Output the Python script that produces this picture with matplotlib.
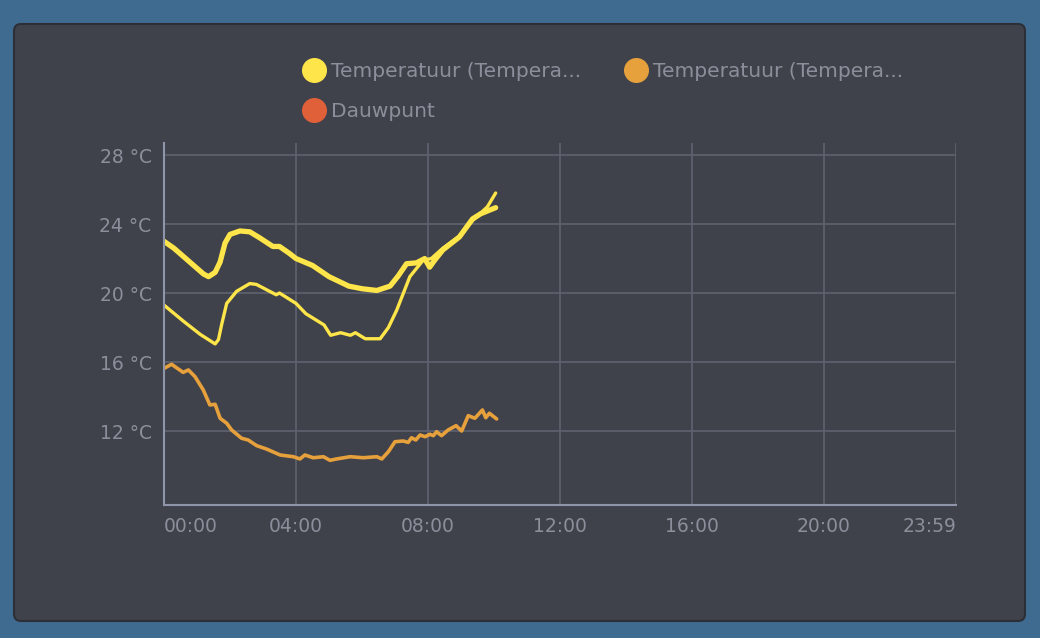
import matplotlib.pyplot as plt
from matplotlib.patches import FancyBboxPatch
from matplotlib.lines import Line2D

# tijd in uren sinds middernacht, temperatuur in graden
temp1_uur = [0.0, 0.3, 0.6, 0.9, 1.2, 1.35, 1.55, 1.7, 1.85, 2.0, 2.3, 2.6, 2.9, 3.3, 3.5,
             3.8, 4.0, 4.5, 5.0, 5.6, 6.0, 6.45, 6.85, 7.1, 7.35, 7.65, 7.9, 8.05, 8.2,
             8.45, 8.95, 9.35, 9.6, 10.05]
temp1 = [23.0, 22.6, 22.1, 21.6, 21.1, 20.95, 21.2, 21.8, 22.9, 23.4, 23.6, 23.55, 23.2,
         22.7, 22.7, 22.3, 22.0, 21.6, 20.95, 20.4, 20.25, 20.15, 20.4, 21.0, 21.7, 21.75,
         22.0, 21.5, 21.9, 22.5, 23.25, 24.3, 24.6, 24.95]

temp1b_uur = [0.0, 0.6, 1.1, 1.55, 1.65, 1.75, 1.9, 2.2, 2.6, 2.8, 3.4, 3.5, 4.0, 4.3, 4.85,
              5.05, 5.35, 5.65, 5.8, 6.1, 6.55, 6.8, 7.05, 7.45, 7.85, 8.1, 8.45, 8.95,
              9.35, 9.8, 10.05]
temp1b = [19.3, 18.35, 17.6, 17.05, 17.3, 18.2, 19.4, 20.1, 20.55, 20.5, 19.9, 20.0, 19.4,
          18.8, 18.15, 17.55, 17.7, 17.55, 17.7, 17.35, 17.35, 18.0, 19.0, 20.95, 21.9,
          22.0, 22.6, 23.3, 24.2, 25.0, 25.8]

temp2_uur = [0.0, 0.23, 0.58, 0.74, 0.94, 1.19, 1.39, 1.55, 1.7, 1.9, 2.05, 2.35, 2.55, 2.81,
             3.1, 3.52, 3.92, 4.12, 4.27, 4.52, 4.83, 5.03, 5.23, 5.64, 6.04, 6.45, 6.6,
             6.8, 7.0, 7.25, 7.4, 7.5, 7.63, 7.76, 7.91, 8.06, 8.16, 8.26, 8.41, 8.61,
             8.85, 9.02, 9.22, 9.42, 9.65, 9.75, 9.86, 10.08]
temp2 = [15.63, 15.87, 15.4, 15.54, 15.15, 14.38, 13.51, 13.55, 12.74, 12.45, 12.06, 11.58,
         11.48, 11.15, 10.96, 10.61, 10.51, 10.38, 10.61, 10.45, 10.51, 10.3, 10.38, 10.51,
         10.45, 10.51, 10.38, 10.8, 11.38, 11.42, 11.34, 11.61, 11.48, 11.77, 11.67, 11.81,
         11.73, 11.96, 11.73, 12.06, 12.31, 12.0, 12.89, 12.74, 13.22, 12.77, 13.03, 12.7]

legenda = ["Temperatuur (Tempera...", "Temperatuur (Tempera...", "Dauwpunt"]
y_ticks = [12, 16, 20, 24, 28]
y_labels = ["12 °C", "16 °C", "20 °C", "24 °C", "28 °C"]
x_ticks = [0, 4, 8, 12, 16, 20, 24]
x_labels = ["00:00", "04:00", "08:00", "12:00", "16:00", "20:00", "23:59"]

geel = "#fde54a"
oranje = "#e6a03c"
rood = "#e0603a"
tekst = "#8c8f9b"
rooster = "#5f6270"
as_kleur = "#8e95a8"

fig = plt.figure(figsize=(10.4, 6.38), dpi=100)
fig.patch.set_facecolor("#3f6b91")

# kaart achter de grafiek
kaart = FancyBboxPatch((14, 638 - 621), 1011, 597, boxstyle="round,pad=0,rounding_size=7",
                       transform=None, facecolor="#40424b", edgecolor="#2d2f36", linewidth=1.5,
                       zorder=-10)
fig.patches.append(kaart)

ax = fig.add_axes([164 / 1040, 1 - 505 / 638, (956 - 164) / 1040, (505 - 143) / 638])
ax.set_facecolor("none")
ax.set_zorder(5)

ax.plot(temp1_uur, temp1, color=geel, lw=3.8, solid_capstyle="round", solid_joinstyle="round")
ax.plot(temp1b_uur, temp1b, color=geel, lw=2.4, solid_capstyle="round", solid_joinstyle="round")
ax.plot(temp2_uur, temp2, color=oranje, lw=2.6, solid_capstyle="round", solid_joinstyle="round")

ax.set_xlim(0, 24)
ax.set_ylim(7.71, 28.7)
ax.set_yticks(y_ticks)
ax.set_yticklabels(y_labels)
ax.set_xticks(x_ticks)
ax.set_xticklabels(x_labels)
ax.tick_params(length=0, colors=tekst, labelsize=13.5)
ax.tick_params(axis="x", pad=9)
ax.tick_params(axis="y", pad=9)
ax.get_xticklabels()[0].set_horizontalalignment("left")
ax.get_xticklabels()[-1].set_horizontalalignment("right")

ax.grid(True, color=rooster, lw=1.2)
ax.set_axisbelow(True)
for kant in ["top", "right"]:
    ax.spines[kant].set_visible(False)
for kant in ["left", "bottom"]:
    ax.spines[kant].set_color(as_kleur)
    ax.spines[kant].set_linewidth(1.5)

# legenda, volgorde zo dat hij rij voor rij loopt
kleuren = [geel, oranje, rood]
handles = [Line2D([], [], ls="none", marker="o", markersize=17, color=k) for k in kleuren]
volgorde = [0, 2, 1]
leg = fig.legend([handles[i] for i in volgorde], [legenda[i] for i in volgorde], ncol=2,
                 loc="upper left", bbox_to_anchor=(302 / 1040, 1 - 62 / 638), frameon=False,
                 fontsize=14.5, labelcolor=tekst, handlelength=1.2, handletextpad=0.25,
                 columnspacing=2.1, labelspacing=1.05, borderpad=0, borderaxespad=0)
leg.set_zorder(6)

fig.savefig("out.png", dpi=100, facecolor=fig.get_facecolor())
